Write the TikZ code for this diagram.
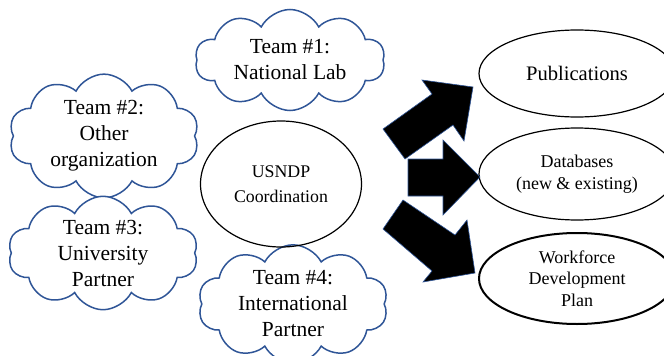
\documentclass[tikz,border=0pt]{standalone}
\usepackage{fontspec}
\setmainfont{Liberation Serif}
\usetikzlibrary{shapes.symbols,shapes.geometric}
\definecolor{cloudblue}{RGB}{47,85,151}
\begin{document}
\begin{tikzpicture}[x=1pt,y=-1pt,
  teamcloud/.style={cloud, cloud puffs=10, cloud puff arc=125, cloud ignores aspect,
    draw=cloudblue, line width=1.5pt, fill=white, minimum width=190pt, minimum height=101pt,
    align=center, font=\fontsize{21.5}{26}\selectfont, inner sep=0pt},
  outcome/.style={ellipse, draw=black, line width=1.2pt, fill=white, minimum width=196pt,
    align=center, inner sep=0pt},
  bigarrow/.style={fill=black, draw=cloudblue, line width=0.6pt, line join=miter}]
\useasboundingbox (0,0) rectangle (664,356);
\clip (0,0) rectangle (664,356);
% clouds
\node[teamcloud] (t1) at (290,60) {Team \#1:\\National Lab};
\node[teamcloud] (t2) at (104,136) {Team \#2:\\Other\\organization};
\node[teamcloud] (t3) at (103,253) {Team \#3:\\University\\Partner};
\node[teamcloud] (t4) at (293,304) {Team \#4:\\International\\Partner};
% centre
\node[ellipse, draw=black, line width=1.2pt, minimum width=161pt, minimum height=126pt,
  align=center, inner sep=0pt, font=\fontsize{17.8}{25}\selectfont] (c) at (281,184) {USNDP\\Coordination};
% outcomes
\node[outcome, minimum height=87pt, font=\fontsize{20.6}{24}\selectfont] (p) at (577,73.5) {Publications};
\node[outcome, minimum height=92pt, font=\fontsize{18}{22}\selectfont] (d) at (577,174) {Databases\\(new \& existing)};
\node[outcome, minimum height=91pt, line width=2pt, font=\fontsize{18}{21.5}\selectfont] (w) at (577,278.5) {Workforce\\Development\\Plan};
% arrows
\draw[bigarrow] (383,129) -- (432,94) -- (422,80) -- (473,87) -- (464,141) -- (453,125) -- (405,159) -- cycle;
\draw[bigarrow] (408,159) -- (443,159) -- (443,140) -- (480,177) -- (443,215) -- (443,196) -- (408,196) -- cycle;
\draw[bigarrow] (403,200) -- (455,235) -- (467,220) -- (475,273) -- (423,282) -- (432,271) -- (383,229) -- cycle;
\end{tikzpicture}
\end{document}
